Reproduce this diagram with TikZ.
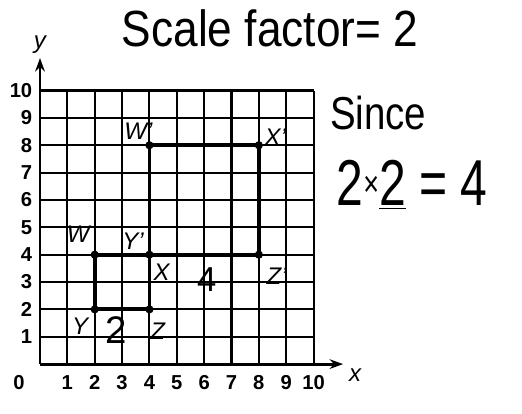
\documentclass[tikz,border=0pt]{standalone}
\usepackage{fontspec}
\setmainfont{Liberation Sans}
\usetikzlibrary{positioning,calc,arrows.meta}

\tikzset{
  gridline/.style={line width=1.1pt},
  axisline/.style={line width=1.5pt, -{Stealth[length=7pt,width=5pt]}},
  shapeline/.style={line width=2pt},
  ptlabel/.style={font=\itshape\fontsize{12.5}{14}\selectfont, inner sep=1pt},
  ticklabel/.style={font=\bfseries\fontsize{10.5}{12}\selectfont, inner sep=1pt},
  hand/.style={font=\fontsize{23}{26}\selectfont, inner sep=0pt}
}

\begin{document}
\begin{tikzpicture}[x=0.5cm, y=0.5cm]
  \useasboundingbox (-1.4625,-1.79) rectangle (17.62,13.31);

  % grid 0..10
  \foreach \i in {1,...,10} {
    \draw[gridline] (\i,0) -- (\i,10);
    \draw[gridline] (0,\i) -- (10,\i);
  }

  % axes
  \coordinate (origin) at (0,0);
  \coordinate (xend) at (11.08,0);
  \coordinate (yend) at (0,11.19);
  \draw[axisline] (origin) -- (xend);
  \draw[axisline] (origin) -- (yend);
  \node[ptlabel] (xlabel) at (11.52,-0.4) {x};
  \node[ptlabel] (ylabel) at (0,11.66) {y};

  % axis numbers
  \node[ticklabel] (n0) at (-0.77,-0.66) {0};
  \foreach \i in {1,...,10} {
    \node[ticklabel] (xn\i) at (\i,-0.66) {\i};
    \node[ticklabel, anchor=east] (yn\i) at (-0.2,\i) {\i};
  }

  % vertices
  \coordinate (W) at (2,4);
  \coordinate (X) at (4,4);
  \coordinate (Y) at (2,2);
  \coordinate (Z) at (4,2);
  \coordinate (Wp) at (4,8);
  \coordinate (Xp) at (8,8);
  \coordinate (Yp) at (4,4);
  \coordinate (Zp) at (8,4);

  % rectangles
  \draw[shapeline] (W) -- (X) -- (Z) -- (Y) -- cycle;
  \draw[shapeline] (Wp) -- (Xp) -- (Zp) -- (Yp) -- cycle;
  \foreach \p in {W,X,Y,Z,Wp,Xp,Zp} {
    \fill (\p) circle (0.15);
  }

  % point labels
  \node[ptlabel] (Wlab) at (1.4,4.75) {W};
  \node[ptlabel] (Xlab) at (4.45,3.35) {X};
  \node[ptlabel] (Ylab) at (1.47,1.4) {Y};
  \node[ptlabel] (Zlab) at (4.3,1.2) {Z};
  \node[ptlabel] (Wplab) at (3.6,8.5) {W'};
  \node[ptlabel] (Xplab) at (8.6,8.3) {X'};
  \node[ptlabel] (Yplab) at (3.4,4.5) {Y'};
  \node[ptlabel] (Zplab) at (8.65,3.2) {Z'};

  % handwritten notes
  \node[hand, font=\fontsize{20}{22}\selectfont] (small) at (2.8,1.25) {2};
  \node[hand, font=\fontsize{18}{20}\selectfont] (large) at (6.1,3.1) {4};
  \node[hand, yscale=1.15] (title) at (8.41,12.29) {Scale factor= 2};
  \node[hand, font=\fontsize{20}{22}\selectfont, yscale=1.2] (since) at (12.36,9.18) {Since};
  \node[hand, font=\fontsize{25}{28}\selectfont, yscale=1.35] (calc) at (13.6,6.54) {2\raisebox{0.25ex}{\fontsize{14}{16}\selectfont ×}\underline{2} = 4};
\end{tikzpicture}
\end{document}
